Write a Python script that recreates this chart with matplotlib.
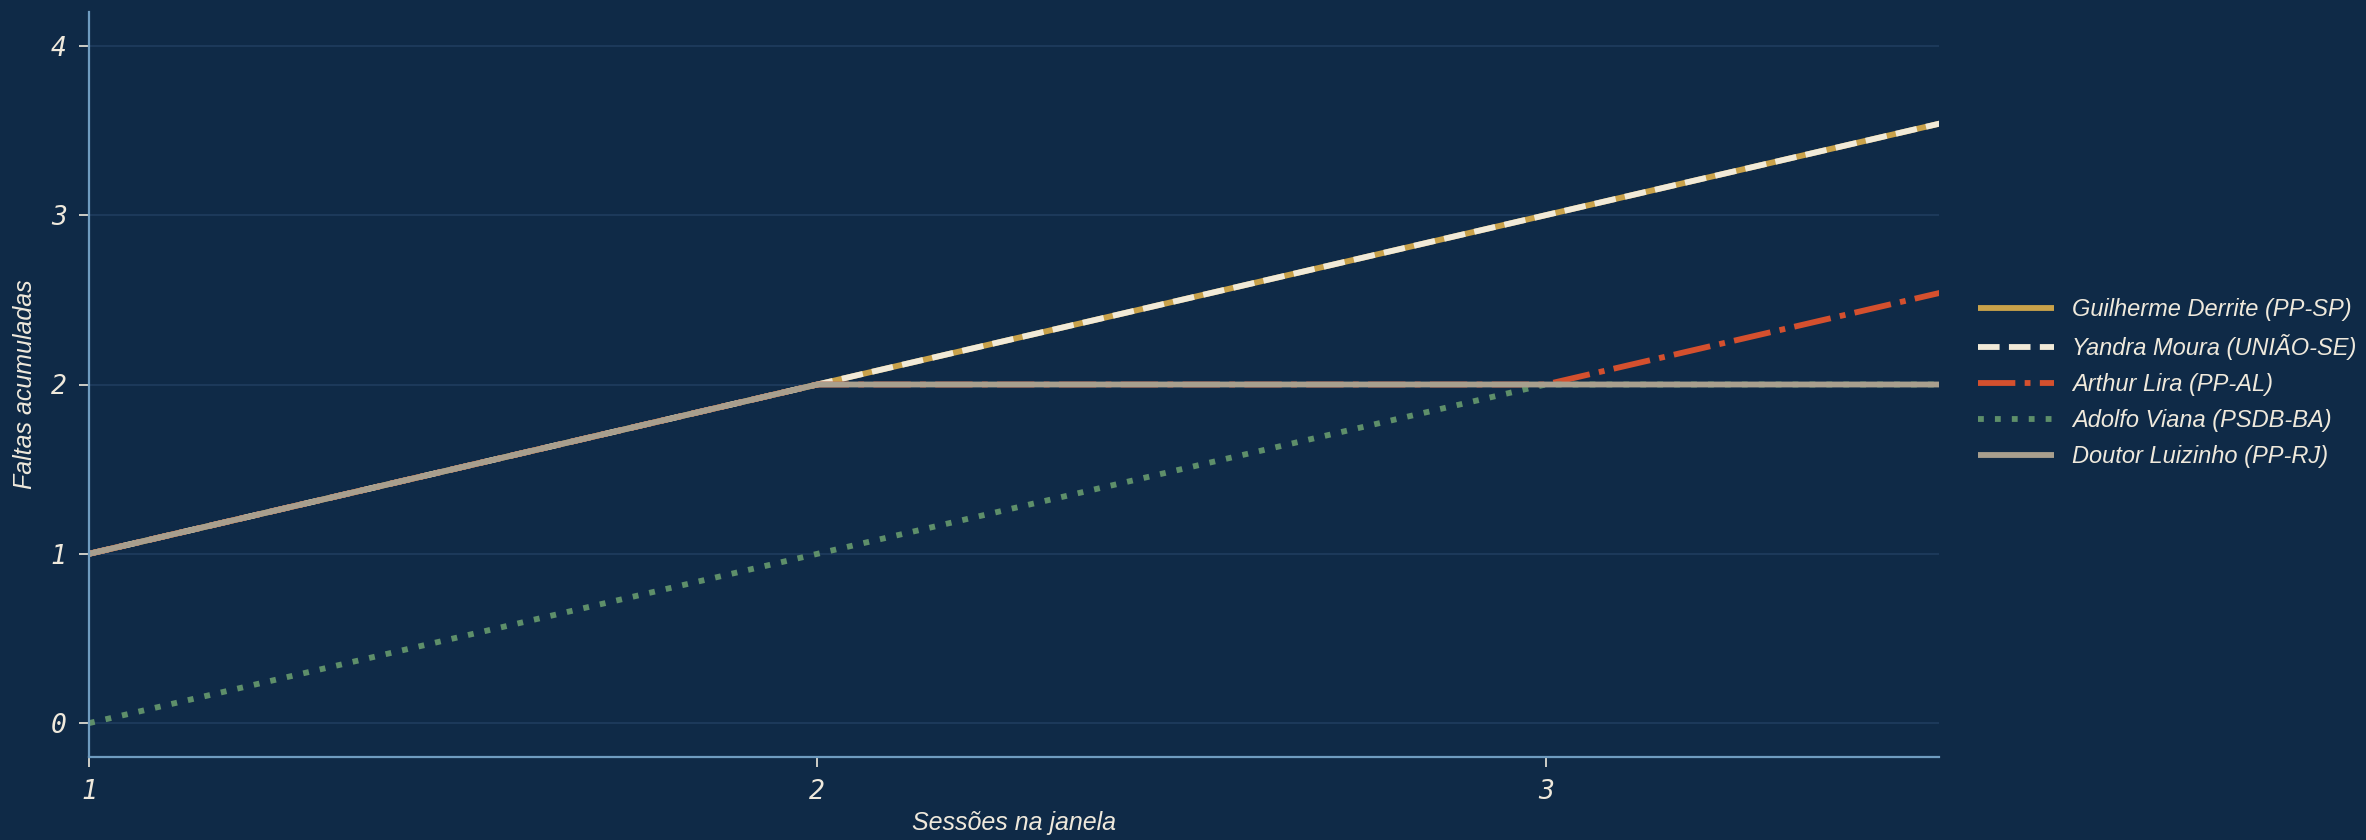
import matplotlib
matplotlib.use("Agg")
import matplotlib.pyplot as plt

sessions = [1, 2, 3, 4]
names = ["Guilherme Derrite (PP-SP)", "Yandra Moura (UNIÃO-SE)", "Arthur Lira (PP-AL)",
         "Adolfo Viana (PSDB-BA)", "Doutor Luizinho (PP-RJ)"]
derrite = [1, 2, 3, 4]
yandra = [1, 2, 3, 4]
lira = [1, 2, 2, 3]
viana = [0, 1, 2, 2]
luizinho = [1, 2, 2, 2]
series = [derrite, yandra, lira, viana, luizinho]
colors = ["#c9a24a", "#f1ead8", "#d4502e", "#5e8f6a", "#a89f8e"]
styles = ["-", (0, (3.7, 1.6)), (0, (6.4, 1.6, 1, 1.6)), (0, (1, 1.9)), "-"]
xticks = [1, 2, 3]
yticks = [0, 1, 2, 3, 4]

BG = "#0f2a47"
SPINE = "#6f9cc0"
TXT = "#efe9dc"

fig = plt.figure(figsize=(23.66, 8.4), dpi=100, facecolor=BG)
ax = fig.add_axes([89/2366, 1-757/840, (1939-89)/2366, (757-12)/840])
ax.set_facecolor(BG)

for vals, c, ls, name in zip(series, colors, styles, names):
    ax.plot(sessions, vals, color=c, linestyle=ls, lw=4.2, label=name,
            solid_capstyle="butt", dash_capstyle="butt")

ax.set_xlim(1, 3.54)
ax.set_ylim(-0.2, 4.2)
ax.set_xticks(xticks)
ax.set_yticks(yticks)
ax.grid(axis="y", color="#1f3d5e", lw=1.2)
ax.grid(axis="x", visible=False)
ax.set_axisbelow(True)

for s in ["top", "right"]:
    ax.spines[s].set_visible(False)
for s in ["left", "bottom"]:
    ax.spines[s].set_color(SPINE)
    ax.spines[s].set_linewidth(1.6)

ax.tick_params(colors=TXT, length=7, width=1.2, labelsize=19, pad=9)
for lab in ax.get_xticklabels() + ax.get_yticklabels():
    lab.set_fontfamily("DejaVu Sans Mono")
    lab.set_fontstyle("oblique")
    lab.set_color(TXT)

ax.set_xlabel("Sessões na janela", fontsize=18, color=TXT, style="italic",
              family="Liberation Sans", labelpad=4)
ax.set_ylabel("Faltas acumuladas", fontsize=18, color=TXT, style="italic",
              family="Liberation Sans", labelpad=10)

leg = fig.legend(loc="center left", bbox_to_anchor=(1978/2366, 1-383/840), frameon=False,
                 prop={"family": "Liberation Sans", "style": "italic", "size": 17},
                 handlelength=3.2, handletextpad=0.8, labelspacing=0.55, borderpad=0,
                 borderaxespad=0)
for t in leg.get_texts():
    t.set_color(TXT)

fig.savefig("out.png", dpi=100, facecolor=BG)
